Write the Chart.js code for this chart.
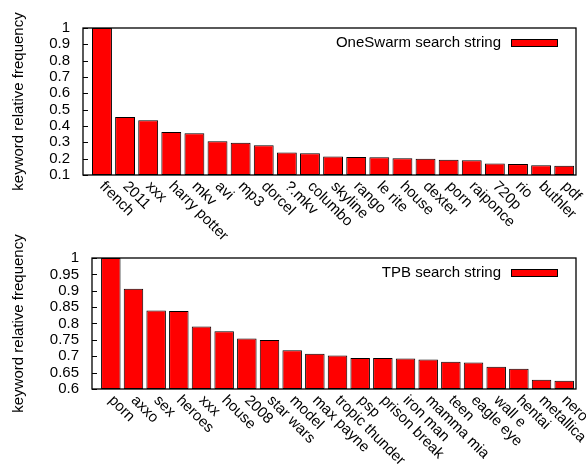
<!DOCTYPE html>
<html><head><meta charset="utf-8">
<script src="https://cdn.jsdelivr.net/npm/chart.js@4.4.1/dist/chart.umd.min.js"></script>
<style>
html,body{margin:0;padding:0;background:#fff;}
#wrap{position:relative;width:586px;height:468px;overflow:hidden;background:#fff;}
#c1w{position:absolute;left:0;top:0;width:586px;height:252px;}
#c2w{position:absolute;left:0;top:234px;width:586px;height:234px;}
</style></head><body>
<div id="wrap"><div id="c1w"><canvas id="c1"></canvas></div><div id="c2w"><canvas id="c2"></canvas></div></div>
<script>
const oneSwarmKeywords = ["french","2011","xxx","harry potter","mkv","avi","mp3","dorcel","?.mkv","columbo","skyline","rango","le rite","house","dexter","porn","raiponce","720p","rio","buthler","pdf"];
const oneSwarmFreq = [1.0,0.455,0.435,0.363,0.355,0.306,0.298,0.282,0.237,0.233,0.214,0.21,0.208,0.202,0.2,0.194,0.19,0.171,0.167,0.159,0.157];
const tpbKeywords = ["porn","axxo","sex","heroes","xxx","house","2008","star wars","model","max payne","tropic thunder","psp","prison break","iron man","mamma mia","teen","eagle eye","wall e","hentai","metallica","nero"];
const tpbFreq = [1.0,0.906,0.840,0.838,0.791,0.776,0.754,0.750,0.718,0.708,0.702,0.695,0.695,0.693,0.690,0.683,0.681,0.668,0.662,0.628,0.625];
const oneSwarmYTicks = [0.1,0.2,0.3,0.4,0.5,0.6,0.7,0.8,0.9,1];
const tpbYTicks = [0.6,0.65,0.7,0.75,0.8,0.85,0.9,0.95,1];
const oneSwarmLegend = "OneSwarm search string";
const tpbLegend = "TPB search string";
const yTitle = "keyword relative frequency";

const FONT = "'Liberation Sans', Arial, Helvetica, sans-serif";

const panelPlugin = {
  id: 'panel',
  afterDatasetsDraw(chart, args, opts) {
    const ctx = chart.ctx, a = chart.chartArea;
    const xs = chart.scales.x, ys = chart.scales.y;
    ctx.save();
    ctx.strokeStyle = '#000'; ctx.lineWidth = 1;
    ys.ticks.forEach(t => {
      const py = Math.round(ys.getPixelForValue(t.value)) + 0.5;
      ctx.beginPath(); ctx.moveTo(a.left, py); ctx.lineTo(a.left + 5, py); ctx.stroke();
    });
    ctx.lineWidth = 1.3;
    ctx.strokeRect(a.left, a.top, a.right - a.left, a.bottom - a.top);
    ctx.fillStyle = '#000';
    ctx.font = "15px " + FONT;
    ctx.textAlign = 'left'; ctx.textBaseline = 'middle';
    opts.keywords.forEach((k, i) => {
      const px = xs.getPixelForValue(i);
      ctx.save();
      ctx.translate(px, a.bottom + 9);
      ctx.rotate(Math.PI / 4);
      ctx.fillText(k, 0, 0);
      ctx.restore();
    });
    ctx.textAlign = 'right';
    ctx.fillText(opts.legend, a.right - 75, a.top + 15);
    ctx.fillStyle = '#ff0000';
    ctx.fillRect(a.right - 65, a.top + 11, 46, 7);
    ctx.lineWidth = 1;
    ctx.strokeRect(a.right - 65 + 0.5, a.top + 11 + 0.5, 46, 7);
    ctx.restore();
  }
};

function makeChart(id, keywords, values, yTicks, legend, cfg) {
  const data = values.map((v, i) => ({x: i, y: v}));
  return new Chart(document.getElementById(id), {
    type: 'bar',
    data: { datasets: [{
      label: legend, data: data,
      backgroundColor: '#ff0000', borderColor: '#000', borderWidth: 1,
      borderSkipped: false,
      base: yTicks[0],
      barPercentage: cfg.barPct, categoryPercentage: 1
    }]},
    options: {
      responsive: true, maintainAspectRatio: false, animation: false,
      layout: { padding: { top: cfg.top, left: 0, right: 10, bottom: 0 } },
      plugins: { legend: { display: false }, tooltip: { enabled: false },
        panel: { keywords: keywords, legend: legend } },
      scales: {
        x: { type: 'linear', min: cfg.xmin, max: cfg.xmax, offset: false, bounds: 'data',
          ticks: { display: false }, grid: { display: false }, border: { display: false },
          afterFit(s) { s.height = cfg.xh; } },
        y: { min: yTicks[0], max: yTicks[yTicks.length - 1],
          afterBuildTicks(s) { s.ticks = yTicks.map(v => ({ value: v })); },
          ticks: { autoSkip: false, color: '#000', padding: 5, font: { family: FONT, size: 15 },
            callback: v => String(Number(v.toFixed(2))) },
          grid: { display: false }, border: { display: false },
          title: { display: true, text: yTitle, color: '#000', font: { family: FONT, size: 15 },
            padding: { top: 10, bottom: 0 } },
          afterFit(s) { s.width = cfg.yw; } }
      }
    },
    plugins: [panelPlugin]
  });
}

makeChart('c1', oneSwarmKeywords, oneSwarmFreq, oneSwarmYTicks, oneSwarmLegend,
  { top: 28, xh: 77, yw: 83, xmin: -0.82, xmax: 20.51, barPct: 0.86 });
makeChart('c2', tpbKeywords, tpbFreq, tpbYTicks, tpbLegend,
  { top: 24, xh: 79, yw: 92, xmin: -0.83, xmax: 20.52, barPct: 0.86 });
</script>
</body></html>
